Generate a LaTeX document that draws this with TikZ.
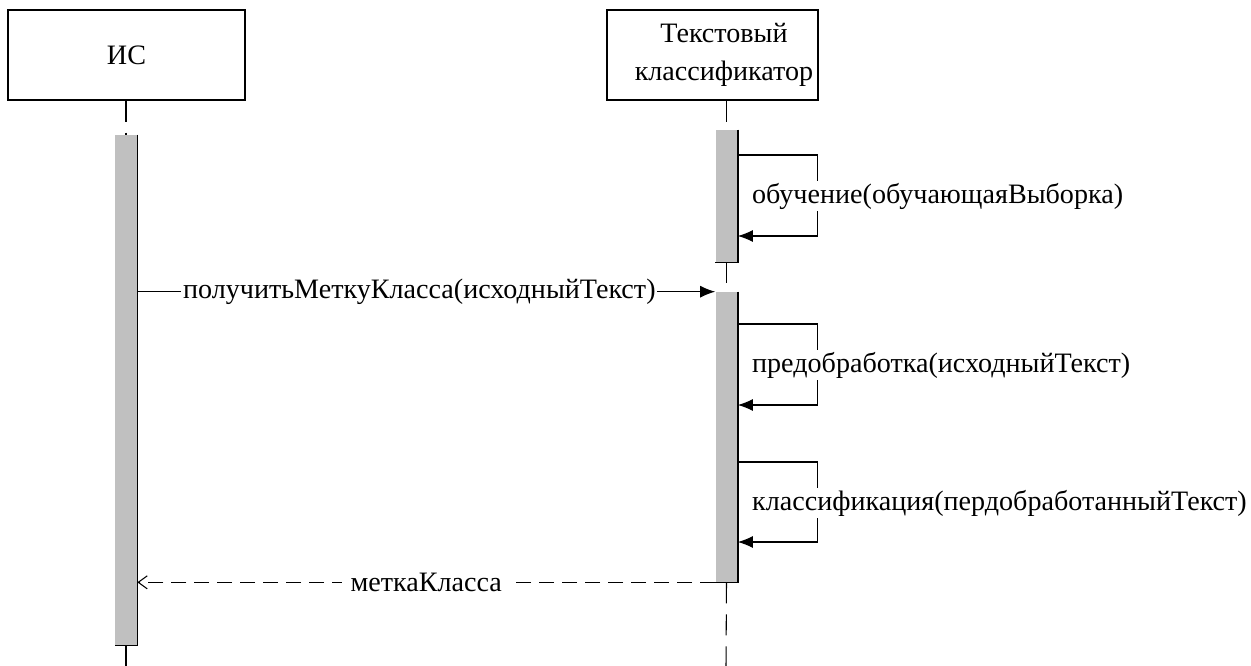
\documentclass[tikz,border=0pt]{standalone}
\usepackage{fontspec}
\setmainfont{Liberation Serif}
\usetikzlibrary{positioning, arrows.meta}
\definecolor{barfill}{RGB}{192,192,192}

\begin{document}
\begin{tikzpicture}[
    x=0.02cm, y=-0.02cm,
    every node/.style={font=\fontsize{16}{22}\selectfont},
    lifebox/.style={rectangle, draw, line width=0.8pt, minimum height=1.8cm},
    bar/.style={rectangle, fill=barfill, minimum width=0.44cm, inner sep=0pt},
    lifeline/.style={line width=0.6pt, dash pattern=on 0.42cm off 0.22cm},
    call/.style={-{Latex[length=0.3cm, width=0.24cm]}, line width=0.6pt},
    reply/.style={-{Straight Barb[length=0.18cm, width=0.26cm]}, line width=0.6pt, dash pattern=on 0.3cm off 0.16cm},
    msgtext/.style={fill=white, inner sep=1pt}
]
\useasboundingbox (0,0) rectangle (1251,666);

% Lifeline heads
\node (isbox) [lifebox, minimum width=4.74cm] at (126.5,55) {ИС};
\node (clfbox) [lifebox, minimum width=4.22cm] at (712.5,55) {};
\node (clftext) [align=center] at (724,55) {Текстовый\\классификатор};

% Activation bars
\node (isbar) [bar, minimum height=10.2cm] at (126,390) {};
\node (clfbar1) [bar, minimum height=2.64cm] at (726.5,196) {};
\node (clfbar2) [bar, minimum height=5.8cm] at (726.5,437) {};
\foreach \b in {isbar, clfbar1, clfbar2}
    \draw [line width=0.8pt] (\b.north east) -- (\b.south east) -- (\b.south west);

% Lifelines
\coordinate (isend) at (126,666);
\coordinate (clfend) at (726,666);
\draw [lifeline] (isbox.south -| isbar) -- (isbar.north);
\draw [lifeline] (isbar.south) -- (isend);
\draw [lifeline] (clfbox.south -| clfbar1) -- (clfbar1.north);
\draw [lifeline] (clfbar1.south) -- (clfbar2.north);
\draw [lifeline] (clfbar2.south) -- (clfend);

% Self messages
\draw [call] (clfbar1.east |- 0,155) -- ++(80,0) |- (clfbar1.east |- 0,236);
\node (learn) [msgtext, anchor=west] at (750,196) {обучение(обучающаяВыборка)};
\draw [call] (clfbar2.east |- 0,324) -- ++(80,0) |- (clfbar2.east |- 0,405);
\node (prep) [msgtext, anchor=west] at (750,365) {предобработка(исходныйТекст)};
\draw [call] (clfbar2.east |- 0,462) -- ++(80,0) |- (clfbar2.east |- 0,542);
\node (classify) [msgtext, anchor=west] at (750,503) {классификация(пердобработанныйТекст)};

% Messages between lifelines
\draw [call] (isbar.east |- clfbar2.north) -- node [msgtext, pos=0.488] (getlabel) {получитьМеткуКласса(исходныйТекст)} (clfbar2.north west);
\draw [reply] (clfbar2.south west) -- node [msgtext, pos=0.5, inner xsep=5pt] (result) {меткаКласса} (isbar.east |- clfbar2.south);

\end{tikzpicture}
\end{document}
